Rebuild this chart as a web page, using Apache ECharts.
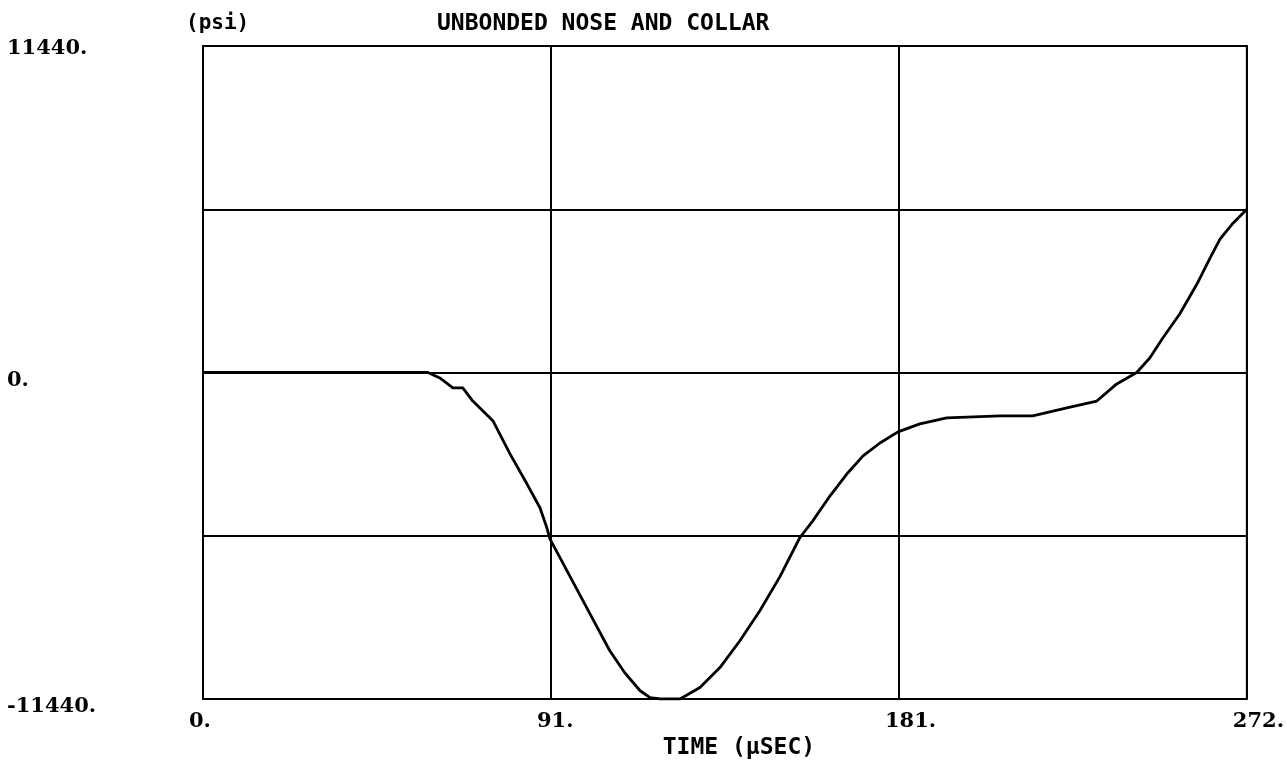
<!DOCTYPE html>
<html>
<head>
<meta charset="utf-8">
<title>Unbonded nose and collar</title>
<script src="https://cdn.jsdelivr.net/npm/echarts@6/dist/echarts.min.js"></script>
<style>
  html, body { margin: 0; padding: 0; background: #fff; }
  #chart { width: 1287px; height: 766px; }
</style>
</head>
<body>
<div id="chart"></div>
<script>
// Stress history (psi) against time (microseconds)
const timeUs = [
  0, 58.6, 61.7, 65.1, 67.7, 70.3, 75.6, 80.0, 84.4, 87.8, 89.6,
  90.4, 94.3, 98.2, 102.1, 106.0, 109.9, 113.9, 116.5, 119.1, 124.3,
  129.5, 134.7, 139.9, 145.1, 150.3, 155.5, 158.9, 163.4, 168.0, 172.0,
  176.4, 181.1, 186.8, 193.8, 207.7, 216.2, 225.1, 232.9, 238.1, 243.3,
  246.7, 250.1, 254.5, 259.0, 262.4, 265.0, 268.4, 272
];
const stressPsi = [
  0, 0, -190, -540, -540, -1000, -1700, -2850, -3900, -4740, -5440,
  -5830, -6810, -7790, -8770, -9750, -10520, -11150, -11390, -11440, -11440,
  -11040, -10340, -9400, -8350, -7160, -5790, -5200, -4320, -3520, -2920,
  -2470, -2080, -1800, -1590, -1520, -1520, -1240, -1000, -400, 0,
  510, 1210, 2050, 3100, 4010, 4670, 5230, 5720
];

const yLimit = 11440;
const tMax = 272;
const titleText = 'UNBONDED NOSE AND COLLAR';
const unitText = '(psi)';
const xName = 'TIME (\u00B5SEC)';

const points = timeUs.map((t, i) => [t, stressPsi[i]]);

const mono = '"DejaVu Sans Mono", "Liberation Mono", monospace';
const serif = '"DejaVu Serif", "Liberation Serif", serif';
const labelFont = { fontFamily: serif, fontSize: 21, fontWeight: 'bold', color: '#000' };

const chart = echarts.init(document.getElementById('chart'), null, { renderer: 'canvas' });
chart.setOption({
  backgroundColor: '#ffffff',
  animation: false,
  title: [
    {
      text: titleText,
      left: 432, top: 8,
      textStyle: { fontFamily: mono, fontSize: 23, fontWeight: 'bold', color: '#000' }
    },
    {
      text: unitText,
      left: 181, top: 8,
      textStyle: { fontFamily: mono, fontSize: 21, fontWeight: 'bold', color: '#000' }
    }
  ],
  grid: {
    left: 203, right: 40, top: 46, bottom: 67,
    show: true, borderColor: '#000', borderWidth: 2, backgroundColor: 'transparent'
  },
  xAxis: {
    type: 'value',
    min: 0, max: tMax, interval: tMax / 3,
    name: xName,
    nameLocation: 'middle',
    nameGap: 38,
    nameTextStyle: { fontFamily: mono, fontSize: 23, fontWeight: 'bold', color: '#000', padding: [0, 0, 0, 28] },
    axisLine: { show: true, lineStyle: { color: '#000', width: 2 } },
    axisTick: { show: false },
    splitLine: { show: true, lineStyle: { color: '#000', width: 2 } },
    axisLabel: Object.assign({
      show: true, showMinLabel: true, showMaxLabel: true,
      margin: 12, align: 'left', padding: [0, 0, 0, -14],
      formatter: v => Math.round(v) + '.'
    }, labelFont)
  },
  yAxis: {
    type: 'value',
    min: -yLimit, max: yLimit, interval: yLimit / 2,
    axisLine: { show: true, lineStyle: { color: '#000', width: 2 } },
    axisTick: { show: false },
    splitLine: { show: true, lineStyle: { color: '#000', width: 2 } },
    axisLabel: {
      show: true, showMinLabel: true, showMaxLabel: true,
      margin: 196, align: 'left',
      formatter: v => {
        if (v === yLimit) return '{top|' + Math.round(v) + '.}';
        if (v === 0 || v === -yLimit) return '{low|' + Math.round(v) + '.}';
        return '';
      },
      rich: {
        top: Object.assign({ padding: [6, 0, 0, 0] }, labelFont),
        low: Object.assign({ padding: [16, 0, 0, 0] }, labelFont)
      }
    }
  },
  series: [{
    type: 'line',
    data: points,
    showSymbol: false,
    smooth: false,
    lineStyle: { color: '#000', width: 2.8 },
    z: 5
  }]
});
</script>
</body>
</html>
